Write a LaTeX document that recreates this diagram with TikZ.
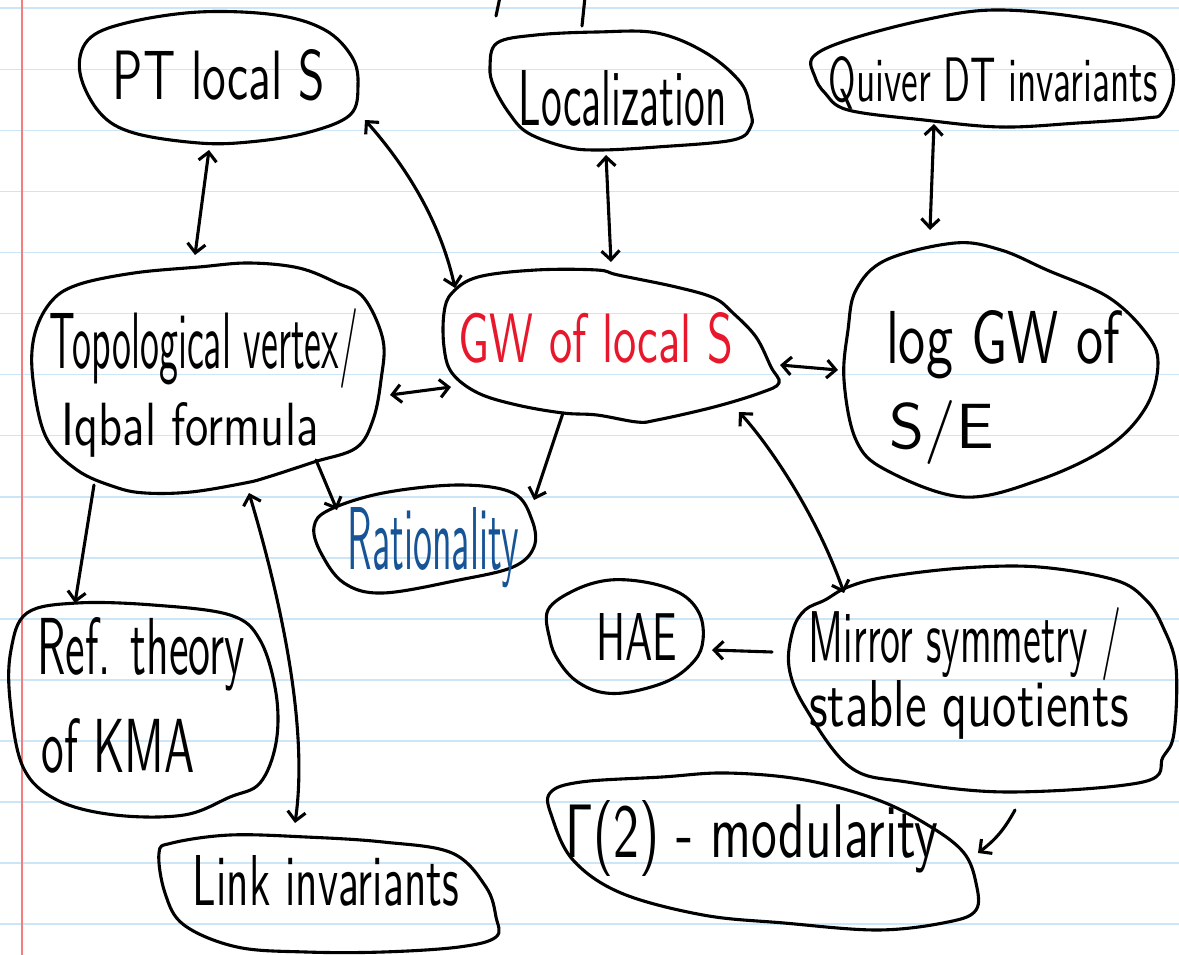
\documentclass[tikz,border=0pt]{standalone}
\usepackage{graphicx}
\usetikzlibrary{shapes.geometric,arrows.meta,calc}
\newcommand{\hw}[3]{\resizebox{#1pt}{#2pt}{#3}}
\definecolor{ruleblue}{RGB}{204,230,248}
\definecolor{marginred}{RGB}{245,125,125}
\definecolor{inkred}{RGB}{232,24,44}
\definecolor{inkblue}{RGB}{22,84,150}
\begin{document}
\begin{tikzpicture}[x=1pt,y=-1pt,
  pen/.style={line width=3.1pt,line cap=round,line join=round},
  blob/.style={pen,draw=black},
  anch/.style={ellipse,inner sep=0pt,draw=none},
  txt/.style={inner sep=0pt,anchor=base,font=\sffamily},
  conn/.style={pen,draw=black,>={Straight Barb[length=9pt,width=18pt]}},
]
\useasboundingbox (0,0) rectangle (1179,955);
\fill[white] (0,0) rectangle (1179,955);
% ruled paper
\foreach \k in {0,...,15} \draw[ruleblue,line width=1.6pt] (0,{8.3+61.05*\k}) -- (1179,{8.3+61.05*\k});
\draw[marginred,line width=1.6pt] (22,0) -- (22,955);

% anchor nodes (invisible outlines)
\node[anch,minimum width=278pt,minimum height=131pt] (pt) at (219,78) {};
\node[anch,minimum width=262pt,minimum height=118pt] (loc) at (621,91) {};
\node[anch,minimum width=360pt,minimum height=117pt] (quiv) at (993,68) {};
\node[anch,minimum width=350pt,minimum height=230pt] (topo) at (208,378) {};
\node[anch,minimum width=335pt,minimum height=152pt] (gw) at (611,346) {};
\node[anch,minimum width=314pt,minimum height=254pt] (logw) at (1001,370) {};
\node[anch,minimum width=220pt,minimum height=108pt] (rat) at (424,539) {};
\node[anch,minimum width=266pt,minimum height=212pt] (rep) at (143,709) {};
\node[anch,minimum width=155pt,minimum height=113pt] (hae) at (625,636) {};
\node[anch,minimum width=387pt,minimum height=225pt] (mir) at (982,680) {};
\node[anch,minimum width=426pt,minimum height=157pt] (gam) at (763,851) {};
\node[anch,minimum width=339pt,minimum height=119pt] (link) at (327,894) {};

% hand-drawn outlines
\draw[blob] plot[smooth cycle,tension=0.6] coordinates {(199,12) (276,15) (325,30) (352,57) (358,85) (350,115) (306,133) (249,142) (199,143) (134,133) (100,113) (80,73) (88,40) (126,23)};
\draw[blob] plot[smooth cycle,tension=0.6] coordinates {(497,43) (536,35) (597,32) (657,33) (706,53) (741,83) (750,110) (751,126) (733,140) (657,147) (599,150) (566,147) (528,133) (509,113) (494,87) (490,67)};
\draw[blob] plot[smooth cycle,tension=0.6] coordinates {(848,40) (924,20) (993,10) (1078,17) (1146,33) (1169,60) (1173,87) (1162,113) (1146,118) (1078,123) (1001,127) (924,120) (848,110) (825,93) (815,77) (813,57)};
\draw[blob] plot[smooth cycle,tension=0.6] coordinates {(77,285) (134,273) (199,267) (249,263) (299,268) (337,283) (364,298) (383,340) (381,380) (373,420) (356,448) (314,462) (268,477) (245,483) (191,492) (145,493) (115,487) (77,470) (46,437) (33,380) (34,337) (50,303)};
\draw[blob] plot[smooth cycle,tension=0.6] coordinates {(478,277) (536,270) (597,270) (618,275) (676,287) (714,298) (733,313) (756,337) (771,367) (779,383) (760,393) (714,407) (657,420) (637,422) (597,415) (563,413) (517,405) (478,393) (452,373) (444,347) (444,313) (452,293)};
\draw[blob] plot[smooth cycle,tension=0.6] coordinates {(886,260) (955,243) (1001,250) (1047,270) (1108,297) (1146,333) (1158,363) (1146,407) (1108,447) (1039,480) (963,497) (886,470) (856,440) (844,380) (848,330) (856,290)};
\draw[blob] plot[smooth cycle,tension=0.6] coordinates {(329,510) (383,493) (459,485) (513,493) (532,520) (534,547) (513,567) (459,580) (383,593) (344,583) (321,553) (314,527)};
\draw[blob] plot[smooth cycle,tension=0.6] coordinates {(27,613) (77,603) (153,605) (230,615) (260,640) (276,693) (276,743) (260,783) (230,797) (184,815) (115,815) (57,800) (23,767) (10,700) (11,650)};
\draw[blob] plot[smooth cycle,tension=0.6] coordinates {(548,610) (575,590) (610,580) (650,583) (683,595) (700,615) (703,640) (695,660) (670,680) (630,692) (600,692) (575,680) (558,660) (550,640)};
\draw[blob] plot[smooth cycle,tension=0.6] coordinates {(825,600) (848,587) (886,577) (963,568) (1039,567) (1115,580) (1146,600) (1163,627) (1176,667) (1174,733) (1163,757) (1143,782) (1009,792) (907,782) (850,767) (805,707) (789,667) (793,630) (805,610)};
\draw[blob] plot[smooth cycle,tension=0.6] coordinates {(581,782) (662,777) (727,773) (805,780) (878,800) (931,827) (964,853) (976,883) (976,910) (948,922) (878,930) (784,923) (703,915) (621,893) (573,860) (552,817) (550,793)};
\draw[blob] plot[smooth cycle,tension=0.6] coordinates {(172,843) (230,835) (306,837) (383,842) (452,853) (486,887) (496,917) (496,937) (459,947) (383,952) (306,952) (237,947) (184,925) (165,893) (159,853)};

% texts
\node[txt] (pt-t) at (219,100) {\hw{212}{50}{PT local S}};
\node[txt] (loc-t) at (623,126) {\hw{208}{55}{Localization}};
\node[txt] (quiv-t) at (993,102) {\hw{329}{45}{Quiver DT invariants}};
\node[txt] (topo-t1) at (204,368) {\hw{308}{60}{Topological vertex/}};
\node[txt] (topo-t2) at (190,445) {\hw{257}{43}{Iqbal formula}};
\node[txt,text=inkred] (gw-t) at (596,362) {\hw{274}{50}{GW of local S}};
\node[txt] (logw-t1) at (1003,363) {\hw{234}{53}{log GW of}};
\node[txt] (logw-t2) at (942,448) {\hw{104}{48}{S/E}};
\node[txt,text=inkblue] (rat-t) at (433,569) {\hw{171}{62}{Rationality}};
\node[txt] (rep-t1) at (141,674) {\hw{207}{57}{Ref. theory}};
\node[txt] (rep-t2) at (118,772) {\hw{153}{54}{of KMA}};
\node[txt] (link-t) at (326,905) {\hw{266}{50}{Link invariants}};
\node[txt] (hae-t) at (637,660) {\hw{81}{47}{HAE}};
\node[txt] (mir-t1) at (965,662) {\hw{312}{55}{Mirror symmetry /}};
\node[txt] (mir-t2) at (969,726) {\hw{320}{46}{stable quotients}};
\node[txt] (gam-t) at (752,857) {\hw{373}{57}{Γ(2) - modularity}};

% connectors
\draw[conn,<->] ($(pt)+(-10,72)$) -- ($(topo)+(-13,-123)$);
\draw[conn,<->] ($(pt)+(146,42)$) .. controls (405,165) and (440,220) .. ($(gw)+(-156,-58)$);
\draw[conn,<->] ($(loc)+(-15,64)$) -- ($(gw)+(0,-84)$);
\draw[conn,<->] ($(quiv)+(-59,56)$) -- ($(logw)+(-71,-140)$);
\draw[conn,<->] ($(topo)+(182,17)$) -- ($(gw)+(-160,41)$);
\draw[conn,<->] ($(gw)+(169,19)$) -- ($(logw)+(-163,0)$);
\draw[conn,->] ($(topo)+(108,82)$) -- ($(rat)+(-87,-29)$);
\draw[conn,->] ($(gw)+(-48,67)$) -- ($(rat)+(110,-39)$);
\draw[conn,<->] ($(gw)+(128,66)$) .. controls (765,440) and (815,510) .. ($(mir)+(-138,-87)$);
\draw[conn,->] ($(topo)+(-114,107)$) -- ($(rep)+(-68,-106)$);
\draw[conn,<->] ($(topo)+(41,115)$) .. controls (275,580) and (310,720) .. ($(link)+(-32,-71)$);
\draw[conn,->] ($(mir)+(-210,-28)$) -- ($(hae)+(87,14)$);
\draw[conn,->] ($(mir)+(33,130)$) to[bend left=12] ($(gam)+(215,2)$);

% stroke fragments entering from above
\coordinate (fa1) at (500,-3);
\coordinate (fa2) at (496,16);
\coordinate (fb1) at (585,-3);
\coordinate (fb2) at (582,26);
\draw[pen] (fa1) -- (fa2);
\draw[pen] (fb1) -- (fb2);
\end{tikzpicture}
\end{document}
